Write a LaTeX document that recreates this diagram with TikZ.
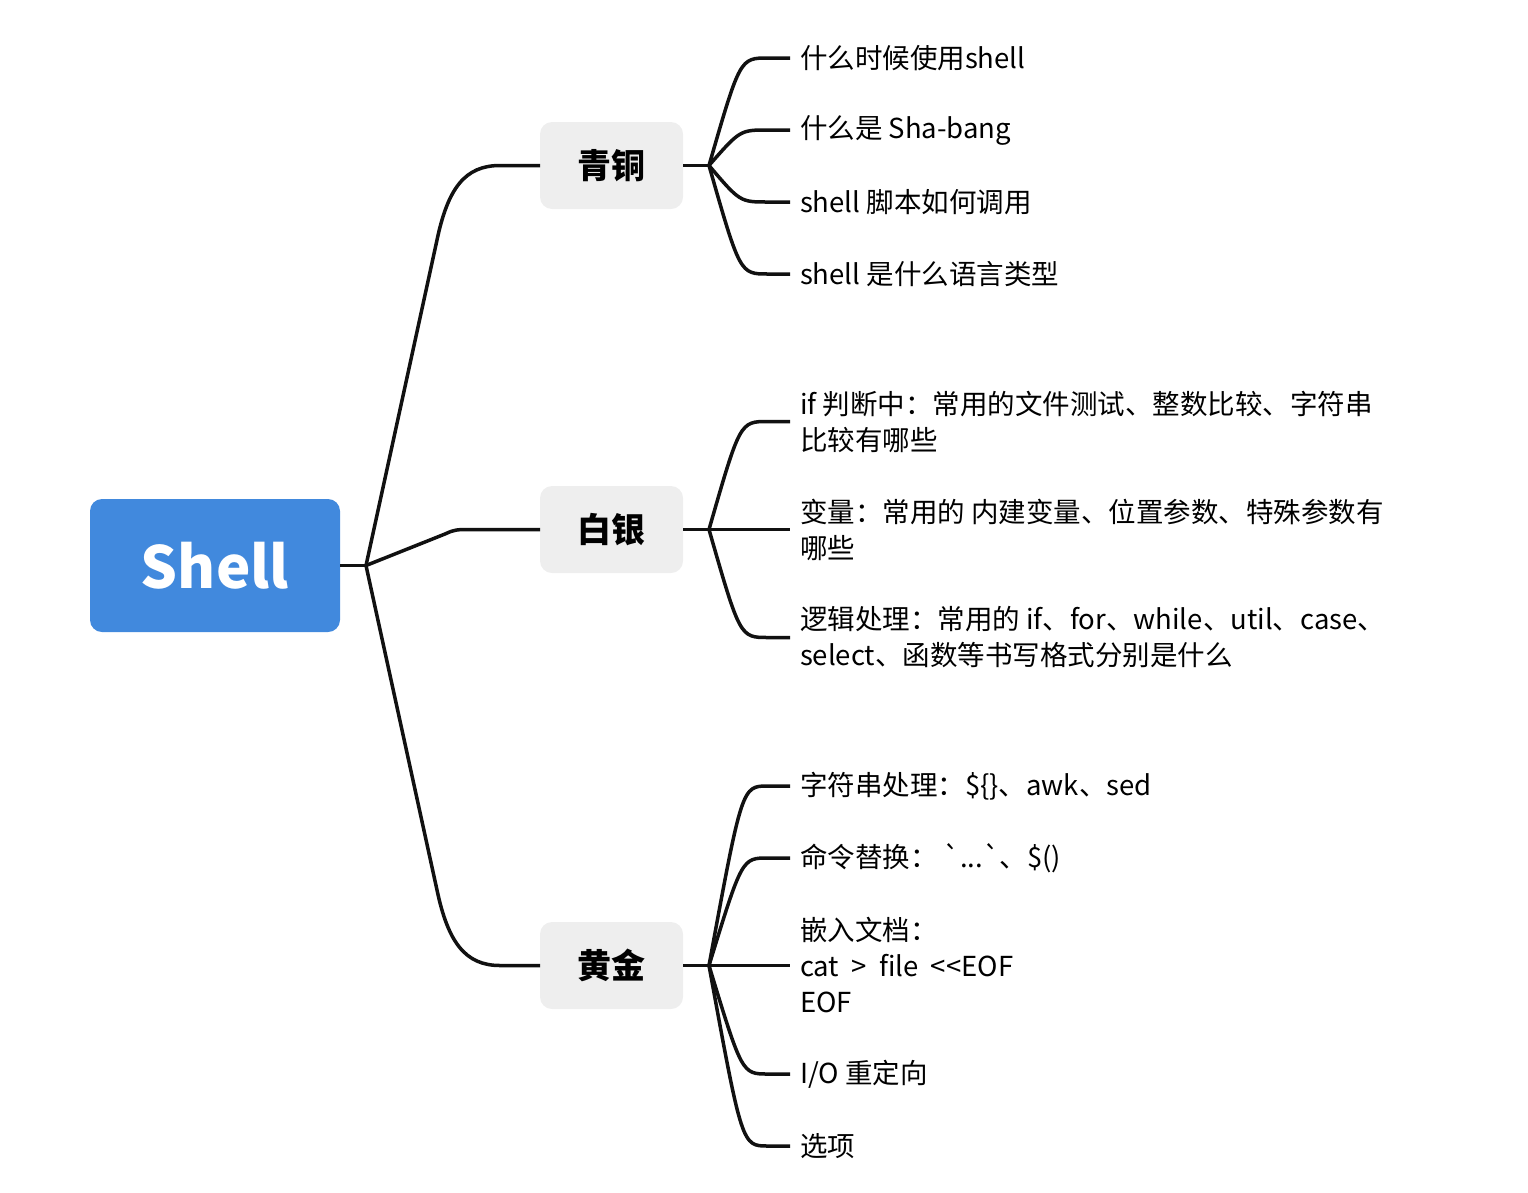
\documentclass[tikz,border=0pt]{standalone}
\usepackage{fontspec}
\setmainfont{Noto Sans CJK SC}
\usetikzlibrary{calc}
\definecolor{shellblue}{HTML}{4189DD}
\definecolor{boxgray}{HTML}{EEEEEE}
\definecolor{linegray}{HTML}{111111}

\begin{document}
\begin{tikzpicture}[x=1pt, y=-1pt, outer sep=0pt,
    root/.style={fill=shellblue, rounded corners=12pt, minimum width=250pt, minimum height=133pt, text=white, font=\fontsize{58}{66}\selectfont\bfseries},
    branch/.style={fill=boxgray, rounded corners=12pt, minimum width=143pt, minimum height=87pt, font=\fontsize{34}{40}\selectfont\bfseries},
    leaf/.style={anchor=west, inner xsep=10pt, inner ysep=0pt, align=left, font=\fontsize{27.5}{36}\selectfont},
    link/.style={draw=linegray, line width=3.5pt}]

\useasboundingbox (0,0) rectangle (1528,1192);

\node[root] at (215,565.5) (shell) {Shell};
\node[branch] at (611.5,165.5) (qt) {青铜};
\node[branch] at (611.5,529.5) (by) {白银};
\node[branch] at (611.5,965.5) (hj) {黄金};

% junctions
\coordinate (jroot) at ($(shell.east)+(26,0)$);
\coordinate (jqt) at ($(qt.east)+(26,0)$);
\coordinate (jby) at ($(by.east)+(26,0)$);
\coordinate (jhj) at ($(hj.east)+(26,0)$);

    \draw[link] (shell.east) -- (jroot);
    \draw[link] (jroot) -- (437,240) .. controls (448,188) and (465,165.5) .. (500,165.5) -- (qt.west);
    \draw[link] (jroot) -- (445,534) .. controls (455,529.5) .. (475,529.5) -- (by.west);
    \draw[link] (jroot) -- (437,890) .. controls (448,942) and (465,965.5) .. (500,965.5) -- (hj.west);
    \draw[link] (qt.east) -- (jqt);
    \draw[link] (by.east) -- (jby);
    \draw[link] (hj.east) -- (jhj);

% bronze
\node[leaf] at (790,58) (qt1) {什么时候使用shell};
\node[leaf] at (790,130) (qt2) {什么是 Sha-bang};
\node[leaf] at (790,202) (qt3) {shell 脚本如何调用};
\node[leaf] at (790,274) (qt4) {shell 是什么语言类型};

% silver
\node[leaf] at (790,421.5) (by1) {if 判断中：常用的文件测试、整数比较、字符串\\比较有哪些};
\node[leaf] at (790,529.5) (by2) {变量：常用的 内建变量、位置参数、特殊参数有\\哪些};
\node[leaf] at (790,637.5) (by3) {逻辑处理：常用的 if、for、while、util、case、\\select、函数等书写格式分别是什么};

% gold
\node[leaf] at (790,786) (hj1) {字符串处理：\$\{\}、awk、sed};
\node[leaf] at (790,858) (hj2) {命令替换： \textasciigrave...\textasciigrave 、\$()};
\node[leaf] at (790,965.5) (hj3) {嵌入文档：\\cat \ > \ file \ <{}<EOF\\EOF};
\node[leaf] at (790,1074) (hj4) {I/O 重定向};
\node[leaf] at (790,1146) (hj5) {选项};

    \foreach \leaf in {qt1,qt2,qt3,qt4}
        \draw[link] (jqt) .. controls ($(\leaf.west)+(-50,0)$) .. ($(\leaf.west)+(-22,0)$) -- (\leaf.west);
    \foreach \leaf in {by1,by2,by3}
        \draw[link] (jby) .. controls ($(\leaf.west)+(-50,0)$) .. ($(\leaf.west)+(-22,0)$) -- (\leaf.west);
    \foreach \leaf in {hj1,hj2,hj3,hj4,hj5}
        \draw[link] (jhj) .. controls ($(\leaf.west)+(-48,0)$) .. ($(\leaf.west)+(-22,0)$) -- (\leaf.west);
\end{tikzpicture}
\end{document}
